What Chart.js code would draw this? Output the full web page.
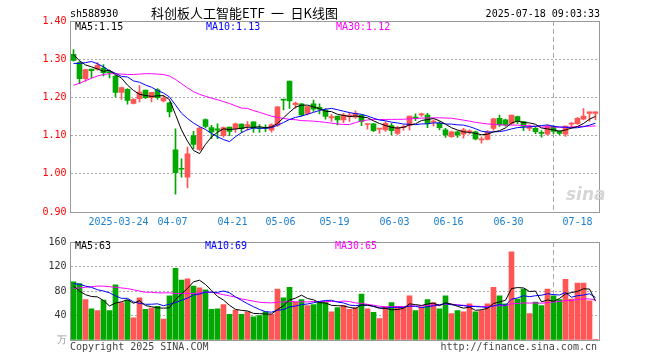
<!DOCTYPE html>
<html><head><meta charset="utf-8">
<script src="https://cdn.jsdelivr.net/npm/chart.js@4/dist/chart.umd.min.js"></script>
<style>
html,body{margin:0;padding:0;background:#fff;}
#wrap{position:relative;width:660px;height:360px;overflow:hidden;font-family:"DejaVu Sans Mono",monospace;font-size:10px;color:#000;}
canvas{position:absolute;left:0;}
.t{position:absolute;white-space:pre;line-height:12px;}
</style></head><body>
<div id="wrap">
<canvas id="kc" width="660" height="232" style="top:0"></canvas>
<canvas id="vc" width="660" height="128" style="top:232px"></canvas>
<div class="t" style="left:70px;top:8px;">sh588930</div>
<div class="t" style="left:151px;top:5px;font-family:'Noto Sans CJK SC';font-size:13px;line-height:16px;">科创板人工智能ETF&#8194;一&#8194;日K线图</div>
<div class="t" style="right:60px;top:8px;">2025-07-18 09:03:33</div>
<div class="t" id="pma5" style="left:75px;top:21px;color:#000;"></div>
<div class="t" id="pma10" style="left:206px;top:21px;color:#0000ff;"></div>
<div class="t" id="pma30" style="left:336px;top:21px;color:#ff00ff;"></div>
<div class="t" id="vma5" style="left:75px;top:240px;color:#000;"></div>
<div class="t" id="vma10" style="left:205px;top:240px;color:#0000ff;"></div>
<div class="t" id="vma30" style="left:335px;top:240px;color:#ff00ff;"></div>
<div class="t" style="left:70px;top:341px;color:#444;">Copyright 2025 SINA.COM</div>
<div class="t" style="right:63px;top:341px;color:#444;">http://finance.sina.com.cn</div>
<div class="t" style="left:566px;top:184px;font-family:'DejaVu Sans';font-style:italic;font-weight:bold;font-size:17px;line-height:20px;color:#d6d6d6;">sina</div>
</div>
<script>
const dates = [
'2025-03-12','2025-03-13','2025-03-14','2025-03-17','2025-03-18','2025-03-19','2025-03-20','2025-03-21','2025-03-24','2025-03-25',
'2025-03-26','2025-03-27','2025-03-28','2025-03-31','2025-04-01','2025-04-02','2025-04-03','2025-04-07','2025-04-08','2025-04-09',
'2025-04-10','2025-04-11','2025-04-14','2025-04-15','2025-04-16','2025-04-17','2025-04-18','2025-04-21','2025-04-22','2025-04-23',
'2025-04-24','2025-04-25','2025-04-28','2025-04-29','2025-04-30','2025-05-06','2025-05-07','2025-05-08','2025-05-09','2025-05-12',
'2025-05-13','2025-05-14','2025-05-15','2025-05-16','2025-05-19','2025-05-20','2025-05-21','2025-05-22','2025-05-23','2025-05-26',
'2025-05-27','2025-05-28','2025-05-29','2025-05-30','2025-06-03','2025-06-04','2025-06-05','2025-06-06','2025-06-09','2025-06-10',
'2025-06-11','2025-06-12','2025-06-13','2025-06-16','2025-06-17','2025-06-18','2025-06-19','2025-06-20','2025-06-23','2025-06-24',
'2025-06-25','2025-06-26','2025-06-27','2025-06-30','2025-07-01','2025-07-02','2025-07-03','2025-07-04','2025-07-07','2025-07-08',
'2025-07-09','2025-07-10','2025-07-11','2025-07-14','2025-07-15','2025-07-16','2025-07-17','2025-07-18'];

const opens = [
1.313,1.291,1.249,1.274,1.274,1.277,1.267,1.256,1.213,1.221,
1.184,1.197,1.219,1.199,1.220,1.191,1.186,1.063,1.014,0.991,
1.100,1.064,1.142,1.121,1.118,1.100,1.122,1.118,1.130,1.125,
1.136,1.120,1.121,1.114,1.127,1.195,1.243,1.181,1.183,1.158,
1.183,1.174,1.167,1.146,1.151,1.141,1.150,1.148,1.154,1.129,
1.131,1.117,1.115,1.126,1.106,1.121,1.126,1.148,1.154,1.154,
1.135,1.132,1.115,1.097,1.110,1.104,1.110,1.110,1.089,1.090,
1.119,1.145,1.141,1.132,1.150,1.137,1.119,1.119,1.107,1.104,
1.124,1.112,1.104,1.130,1.131,1.143,1.158,1.158];
const highs = [
1.325,1.294,1.274,1.274,1.291,1.286,1.271,1.258,1.227,1.223,
1.197,1.231,1.219,1.213,1.223,1.204,1.188,1.118,1.039,1.070,
1.111,1.122,1.144,1.127,1.131,1.122,1.122,1.133,1.131,1.137,
1.136,1.129,1.128,1.131,1.176,1.195,1.243,1.188,1.184,1.176,
1.193,1.183,1.171,1.156,1.151,1.158,1.160,1.165,1.154,1.131,
1.132,1.119,1.137,1.132,1.124,1.127,1.151,1.157,1.159,1.158,
1.141,1.137,1.119,1.112,1.112,1.119,1.115,1.112,1.097,1.113,
1.145,1.154,1.143,1.154,1.151,1.137,1.128,1.124,1.113,1.128,
1.126,1.112,1.125,1.134,1.148,1.171,1.162,1.162];
const lows = [
1.295,1.236,1.242,1.251,1.271,1.256,1.251,1.201,1.195,1.182,
1.183,1.188,1.197,1.188,1.195,1.188,1.149,0.947,0.991,0.963,
1.066,1.061,1.120,1.092,1.092,1.096,1.100,1.108,1.108,1.114,
1.108,1.108,1.110,1.109,1.124,1.167,1.171,1.171,1.151,1.154,
1.163,1.157,1.143,1.137,1.128,1.134,1.137,1.145,1.126,1.117,
1.110,1.106,1.111,1.102,1.102,1.114,1.114,1.139,1.150,1.121,
1.125,1.115,1.095,1.095,1.095,1.093,1.104,1.089,1.080,1.089,
1.114,1.124,1.125,1.128,1.131,1.113,1.113,1.105,1.096,1.102,
1.105,1.102,1.098,1.121,1.129,1.141,1.137,1.141];
const closes = [
1.297,1.249,1.273,1.270,1.284,1.265,1.265,1.213,1.226,1.192,
1.195,1.214,1.199,1.213,1.199,1.198,1.162,1.003,1.012,1.052,
1.077,1.120,1.124,1.109,1.114,1.121,1.111,1.131,1.118,1.129,
1.120,1.118,1.119,1.128,1.175,1.193,1.191,1.185,1.154,1.176,
1.169,1.169,1.150,1.150,1.141,1.154,1.154,1.158,1.137,1.131,
1.113,1.119,1.132,1.113,1.121,1.123,1.151,1.146,1.157,1.132,
1.138,1.121,1.102,1.110,1.102,1.115,1.112,1.091,1.091,1.110,
1.144,1.128,1.128,1.154,1.137,1.124,1.123,1.110,1.106,1.125,
1.111,1.106,1.125,1.132,1.145,1.151,1.162,1.162];
const volumes = [
95,92,66,51,48,65,48,90,61,65,36,69,50,52,55,34,72,117,98,100,88,85,82,50,51,58,42,49,42,46,
38,40,46,42,83,69,86,62,66,56,58,62,61,46,53,56,50,53,75,51,45,35,54,61,54,54,72,48,54,66,
61,51,72,43,48,46,59,46,48,59,86,72,59,144,67,83,43,62,56,83,72,66,99,67,93,93,64,1];

// moving-average values for the first days (their history lies before the window)
const ma5Head = [1.312,1.296,1.285,1.280];
const ma10Head = [1.289,1.289,1.291,1.294,1.288,1.280,1.270,1.263,1.255];
const ma30Head = [1.232,1.237,1.244,1.250,1.256,1.260,1.262,1.262,1.261,1.260,1.260,1.261,1.262,1.262,1.261,1.260,1.256,1.247,1.236,1.225,1.215,1.208,1.203,1.198,1.194,1.189,1.184,1.178,1.172];
const volMa5Head = [88,80,74,71];
const volMa10Head = [92,91,88,86,82,80,77,72,68];
const volMa30Head = [84,85,86,87,88,88,87,86,85,84,82,80,78,78,77,77,77,76,76,76,76,77,78,78,76,74,72,70,67];

const tickDates = ['2025-03-24','2025-04-07','2025-04-21','2025-05-06','2025-05-19','2025-06-03','2025-06-16','2025-06-30','2025-07-18'];
const tickLabels = ['2025-03-24','04-07','04-21','05-06','05-19','06-03','06-16','06-30','07-18'];
const priceTicks = [0.9,1.0,1.1,1.2,1.3,1.4];
const volumeTicks = [0,40,80,120,160];

function movingAvg(vals, n, head){
  return vals.map((v,i)=>{
    if (i < head.length) return head[i];
    let s=0; for(let k=i-n+1;k<=i;k++) s+=vals[k];
    return s/n;
  });
}
const ma5 = movingAvg(closes,5,ma5Head), ma10 = movingAvg(closes,10,ma10Head), ma30 = movingAvg(closes,30,ma30Head);
const vma5 = movingAvg(volumes,5,volMa5Head), vma10 = movingAvg(volumes,10,volMa10Head), vma30 = movingAvg(volumes,30,volMa30Head);

const RED='#ff5555', GREEN='#00a800';
const colors = closes.map((c,i)=> c>=opens[i] ? RED : GREEN);
const bodies = closes.map((c,i)=>[opens[i],c]);
const wicks = lows.map((l,i)=>[l,highs[i]]);

const last = a => a[a.length-1];
const f2 = v => (Math.floor(v*100+1e-6)/100).toFixed(2);
document.getElementById('pma5').textContent = 'MA5:' + f2(last(ma5));
document.getElementById('pma10').textContent = 'MA10:' + f2(last(ma10));
document.getElementById('pma30').textContent = 'MA30:' + f2(last(ma30));
document.getElementById('vma5').textContent = 'MA5:' + Math.floor(last(vma5));
document.getElementById('vma10').textContent = 'MA10:' + Math.floor(last(vma10));
document.getElementById('vma30').textContent = 'MA30:' + Math.floor(last(vma30));

const tickIdx = new Map(tickDates.map((d,k)=>[dates.indexOf(d), tickLabels[k]]));
const MONO = {family:'DejaVu Sans Mono', size:10};

const framePlugin = {id:'frame', afterDraw(chart){
  const {ctx, chartArea:a} = chart;
  ctx.save(); ctx.strokeStyle='#999'; ctx.lineWidth=1;
  const t = Math.round(a.top)+0.5, b = Math.round(a.bottom)+0.5;
  ctx.strokeRect(70.5, t, 529, b-t);
  ctx.restore();
}};

function xAxis(showLabels){
  return {
    type:'category', offset:true,
    afterFit: s => { s.height = showLabels ? 20 : 0; },
    grid:{offset:true, drawTicks:false, lineWidth:1,
      color: c => tickIdx.has(c.index) ? '#aaaaaa' : 'rgba(0,0,0,0)'},
    border:{display:false, dash:[5,3]},
    ticks:{display:showLabels, autoSkip:false, maxRotation:0, minRotation:0, padding:4, labelOffset:-3,
      color:'#1a7fd0', font:MONO,
      callback:(v,i)=>{ if(!tickIdx.has(i)) return null; const s=tickIdx.get(i); return i===dates.length-1 ? s+'     ' : s; }}
  };
}
function lineDs(data,color){
  return {type:'line', data, borderColor:color, borderWidth:1, pointRadius:0, tension:0, fill:false, order:0};
}

new Chart(document.getElementById('kc'), {
  type:'bar',
  data:{labels:dates, datasets:[
    lineDs(ma5,'#000000'), lineDs(ma10,'#0000ff'), lineDs(ma30,'#ff00ff'),
    {type:'bar', data:bodies, backgroundColor:colors, barThickness:5, grouped:false, minBarLength:1, borderWidth:0, order:2},
    {type:'bar', data:wicks, backgroundColor:colors, barThickness:1, grouped:false, minBarLength:1, borderWidth:0, order:3}
  ]},
  options:{
    responsive:false, animation:false, devicePixelRatio:1,
    layout:{padding:{top:21,right:61.5,left:0,bottom:0}},
    plugins:{legend:{display:false}, tooltip:{enabled:false}},
    scales:{
      x:xAxis(true),
      y:{min:0.9, max:1.4,
        afterFit: s => { s.width = 70.5; },
        afterBuildTicks: s => { s.ticks = priceTicks.map(v=>({value:v})); },
        grid:{drawTicks:false, color:'#a8a8a8', lineWidth:1},
        border:{display:false, dash:[2,2]},
        ticks:{color:'#ff0000', font:MONO, padding:4, callback:v=>Number(v).toFixed(2)}
      }
    }
  },
  plugins:[framePlugin]
});

new Chart(document.getElementById('vc'), {
  type:'bar',
  data:{labels:dates, datasets:[
    lineDs(vma5,'#000000'), lineDs(vma10,'#0000ff'), lineDs(vma30,'#ff00ff'),
    {type:'bar', data:volumes, backgroundColor:colors, barThickness:5, borderWidth:0, order:2}
  ]},
  options:{
    responsive:false, animation:false, devicePixelRatio:1,
    layout:{padding:{top:8,right:61.5,left:0,bottom:20}},
    plugins:{legend:{display:false}, tooltip:{enabled:false}},
    scales:{
      x:xAxis(false),
      y:{min:0, max:160,
        afterFit: s => { s.width = 70.5; },
        afterBuildTicks: s => { s.ticks = volumeTicks.map(v=>({value:v})); },
        grid:{drawTicks:false, lineWidth:1, color: c => (c.tick && (c.tick.value===0||c.tick.value===160)) ? 'rgba(0,0,0,0)' : '#a8a8a8'},
        border:{display:false, dash:[2,2]},
        ticks:{color: c => (c.tick && c.tick.value===0) ? '#999' : '#333', font:MONO, padding:4,
          callback:v=> v===0 ? '万' : String(v)}
      }
    }
  },
  plugins:[framePlugin]
});
</script>
</body></html>
